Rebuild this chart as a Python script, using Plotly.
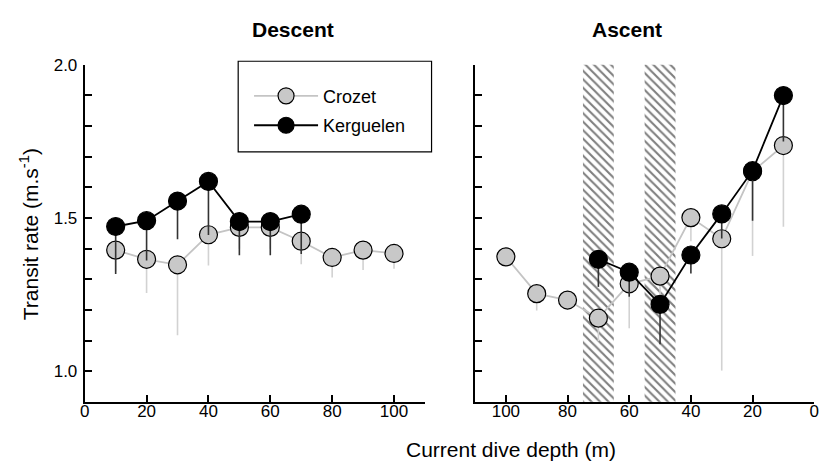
import plotly.graph_objects as go

# ---- data ----
desc_depth_crozet = [10, 20, 30, 40, 50, 60, 70, 80, 90, 100]
desc_crozet = [1.395, 1.365, 1.347, 1.445, 1.469, 1.469, 1.424, 1.371, 1.395, 1.384]
desc_crozet_err = [0.07, 0.11, 0.23, 0.10, 0.07, 0.07, 0.075, 0.065, 0.065, 0.05]

desc_depth_kerg = [10, 20, 30, 40, 50, 60, 70]
desc_kerg = [1.472, 1.491, 1.555, 1.619, 1.488, 1.488, 1.512]
desc_kerg_err = [0.155, 0.13, 0.125, 0.175, 0.11, 0.11, 0.13]

asc_depth_crozet = [100, 90, 80, 70, 60, 50, 40, 30, 20, 10]
asc_crozet = [1.373, 1.253, 1.232, 1.173, 1.285, 1.310, 1.501, 1.432, 1.651, 1.736]
asc_crozet_err = [0.01, 0.055, 0.01, 0.075, 0.145, 0.06, 0.077, 0.43, 0.275, 0.265]

asc_depth_kerg = [70, 60, 50, 40, 30, 20, 10]
asc_kerg = [1.365, 1.323, 1.218, 1.379, 1.513, 1.654, 1.899]
asc_kerg_err = [0.09, 0.08, 0.13, 0.06, 0.08, 0.163, 0.15]

hatch_centers = [70, 50]
hatch_width = 10
y_min, y_max = 0.9, 2.0

x_ticks_desc = [0, 20, 40, 60, 80, 100]
x_ticks_asc = [100, 80, 60, 40, 20, 0]
y_ticks = [1.0, 1.5, 2.0]

FONT = "Liberation Sans, Arial, Helvetica, sans-serif"
W, H = 839, 461

crozet_fill = "#c8c8c8"
crozet_line = "#c4c4c4"
crozet_err = "#d2d2d2"
kerg_color = "#000000"
kerg_err = "#333333"

fig = go.Figure()

# hatched bands (ascent panel)
fig.add_trace(go.Bar(
    x=hatch_centers, y=[y_max - y_min] * len(hatch_centers), base=[y_min] * len(hatch_centers),
    width=[hatch_width] * len(hatch_centers),
    marker=dict(color="white", line=dict(width=0),
                pattern=dict(shape="\\", fgcolor="black", bgcolor="white", size=6, solidity=0.35)),
    xaxis="x2", yaxis="y2", showlegend=False, hoverinfo="skip",
))

def series(x, y, err, name, fill, line, errc, xa, ya, show, group):
    return go.Scatter(
        x=x, y=y, mode="lines+markers", name=name,
        line=dict(color=line, width=1.8),
        marker=dict(size=18, color=fill, line=dict(color="black", width=1.2)),
        error_y=dict(type="data", symmetric=False, array=[0] * len(err), arrayminus=err,
                     color=errc, thickness=1.6, width=0),
        xaxis=xa, yaxis=ya, showlegend=show, legendgroup=group,
    )

fig.add_trace(series(desc_depth_crozet, desc_crozet, desc_crozet_err, "Crozet",
                     crozet_fill, crozet_line, crozet_err, "x", "y", True, "c"))
fig.add_trace(series(asc_depth_crozet, asc_crozet, asc_crozet_err, "Crozet",
                     crozet_fill, crozet_line, crozet_err, "x2", "y2", False, "c"))
fig.add_trace(series(desc_depth_kerg, desc_kerg, desc_kerg_err, "Kerguelen",
                     kerg_color, kerg_color, kerg_err, "x", "y", True, "k"))
fig.add_trace(series(asc_depth_kerg, asc_kerg, asc_kerg_err, "Kerguelen",
                     kerg_color, kerg_color, kerg_err, "x2", "y2", False, "k"))

def px_x(p):
    return p / W

def px_y(p):
    return 1 - p / H

axis_common = dict(showline=True, linecolor="black", linewidth=2, ticks="inside",
                   ticklen=7, tickwidth=1.6, tickcolor="black", showgrid=False,
                   zeroline=False, tickfont=dict(family=FONT, size=17, color="black"))
minor_ticks = dict(dtick=0.1, tick0=0, ticks="inside", ticklen=7, tickwidth=1.6,
                   tickcolor="black")

def label(text, x, y, size=21, angle=0):
    return dict(text=text, x=px_x(x), y=px_y(y), xref="paper", yref="paper",
                xanchor="center", yanchor="middle", showarrow=False, textangle=angle,
                font=dict(family=FONT, size=size, color="black"))

fig.update_layout(
    width=W, height=H, margin=dict(l=0, r=0, t=0, b=0),
    paper_bgcolor="white", plot_bgcolor="white",
    font=dict(family=FONT, color="black"),
    barmode="overlay",
    xaxis=dict(domain=[px_x(80.7), px_x(425)], range=[0, 110], tickvals=x_ticks_desc,
               anchor="y", ticklabelstandoff=-7, **axis_common),
    yaxis=dict(domain=[px_y(400.7), px_y(56.7)], range=[y_min, y_max], tickvals=y_ticks,
               tickformat=".1f", anchor="x", ticklabelstandoff=2, minor=minor_ticks,
               **axis_common),
    xaxis2=dict(domain=[px_x(475.7), px_x(819)], range=[110, 0], tickvals=x_ticks_asc,
                anchor="y2", ticklabelstandoff=-7, **axis_common),
    yaxis2=dict(domain=[px_y(400.7), px_y(56.7)], range=[y_min, y_max], tickvals=y_ticks,
                showticklabels=False, anchor="x2", minor=minor_ticks, **axis_common),
    legend=dict(x=px_x(247), y=px_y(70), xanchor="left", yanchor="top",
                bgcolor="rgba(0,0,0,0)", borderwidth=0,
                font=dict(family=FONT, size=18, color="black"),
                traceorder="grouped", tracegroupgap=3, itemwidth=64),
    shapes=[
        dict(type="rect", xref="paper", yref="paper",
             x0=px_x(236), x1=px_x(431.7), y0=px_y(145.7), y1=px_y(53.3),
             line=dict(color="black", width=1.2), fillcolor="white", layer="below"),
    ],
    annotations=[
        label("<b>Descent</b>", 291, 21),
        label("<b>Ascent</b>", 630, 21),
        label("Current dive depth (m)", 512, 449),
        label("Transit rate (m.s<sup>-1</sup>)", 24, 230, angle=-90),
    ],
)

fig.write_html("out.html")
